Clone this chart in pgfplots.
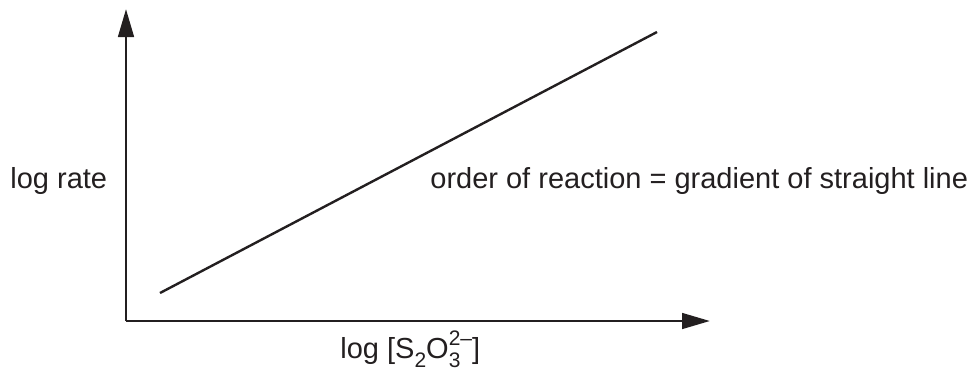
\documentclass[border=0pt]{standalone}
\usepackage{fontspec}
\setmainfont{Liberation Sans}
\usepackage{pgfplots}
\pgfplotsset{compat=1.18}
\usetikzlibrary{arrows.meta}
\definecolor{ink}{RGB}{35,31,32}
\newcommand{\lo}[1]{\raisebox{-0.32em}{\fontsize{10.5}{10.5}\selectfont #1}}
\newcommand{\hi}[1]{\raisebox{0.42em}{\fontsize{10.5}{10.5}\selectfont #1}}

\begin{document}
\begin{tikzpicture}[every node/.style={font=\fontsize{14.5}{17}\selectfont, text=ink, inner sep=0pt}]
\begin{axis}[
    x=0.5pt, y=0.5pt,
    xmin=126, xmax=710,
    ymin=51, ymax=363,
    axis lines=left,
    axis line style={ink, line width=1.4pt, -{Triangle[length=14pt,width=7.8pt]}},
    xtick=\empty, ytick=\empty,
    clip=false,
]
    % straight line: log rate against log concentration
    \addplot[ink, line width=1.2pt] coordinates {(160,79) (657,340)};

    \node[anchor=base west] at (axis cs:10,184) {log rate};
    \node[anchor=base west] at (axis cs:430,184) {order of reaction = gradient of straight line};
    \node[anchor=base west] at (axis cs:340,14)
        {log [S\lo{2}O\rlap{\lo{3}}\hi{2\textendash}]};

    % keep the page the size of the reference
    \path (axis cs:0,0) (axis cs:978,372);
\end{axis}
\end{tikzpicture}
\end{document}
